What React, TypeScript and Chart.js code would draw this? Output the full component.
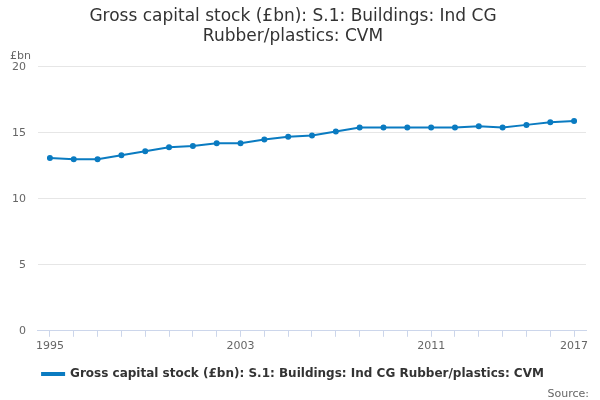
import React, { useEffect, useRef } from "react";
import { Chart, registerables } from "chart.js";
Chart.register(...registerables);

const years = [1995,1996,1997,1998,1999,2000,2001,2002,2003,2004,2005,2006,2007,2008,2009,2010,2011,2012,2013,2014,2015,2016,2017];
const values = [13.1,13.0,13.0,13.3,13.6,13.9,14.0,14.2,14.2,14.5,14.7,14.8,15.1,15.4,15.4,15.4,15.4,15.4,15.5,15.4,15.6,15.8,15.9];
const labelYears = [1995, 2003, 2011, 2017];
const seriesName = "Gross capital stock (£bn): S.1: Buildings: Ind CG Rubber/plastics: CVM";
const FONT = "'DejaVu Sans', sans-serif";

export default function App() {
  const ref = useRef<HTMLCanvasElement>(null);
  useEffect(() => {
    const extra = {
      id: "extra",
      afterDraw(c: any) {
        const ctx = c.ctx;
        ctx.save();
        ctx.font = `11px ${FONT}`;
        ctx.fillStyle = "#666";
        ctx.textAlign = "left";
        ctx.fillText("£bn", 10, 56);
        ctx.textAlign = "right";
        ctx.fillText("Source:", 589, 394);
        ctx.restore();
      },
    };
    const chart = new Chart(ref.current!, {
      type: "line",
      data: {
        datasets: [{
          label: seriesName,
          data: years.map((y, i) => ({ x: y, y: values[i] })),
          borderColor: "#0a7bc1",
          backgroundColor: "#0a7bc1",
          borderWidth: 2,
          pointRadius: 2,
          tension: 0,
        }],
      },
      options: {
        animation: false,
        responsive: false,
        layout: { padding: { left: 0, right: 14, top: 0, bottom: 10 } },
        plugins: {
          title: {
            display: true,
            text: ["Gross capital stock (£bn): S.1: Buildings: Ind CG", "Rubber/plastics: CVM"],
            font: { family: FONT, size: 17, weight: "normal" },
            color: "#333",
            padding: { top: 6, bottom: 20 },
          },
          legend: {
            position: "bottom",
            labels: {
              font: { family: FONT, size: 12, weight: "bold" },
              color: "#333",
              boxWidth: 22,
              boxHeight: 2,
              padding: 12,
            },
          },
          tooltip: { enabled: false },
        },
        scales: {
          x: {
            type: "linear",
            min: 1994.5,
            max: 2017.5,
            afterBuildTicks: (s: any) => { s.ticks = years.map((v) => ({ value: v })); },
            ticks: {
              autoSkip: false,
              maxRotation: 0,
              callback: (v: any) => (labelYears.includes(v) ? String(v) : ""),
              font: { family: FONT, size: 11 },
              color: "#666",
            },
            grid: { drawOnChartArea: false, drawTicks: true, tickLength: 6, color: "#ccd6eb" },
            border: { color: "#ccd6eb" },
          },
          y: {
            min: 0,
            max: 20,
            ticks: { stepSize: 5, font: { family: FONT, size: 11 }, color: "#666", padding: 12 },
            grid: { color: "#e6e6e6", drawTicks: false },
            border: { display: false },
          },
        },
      },
      plugins: [extra],
    });
    return () => chart.destroy();
  }, []);
  return <canvas ref={ref} width={600} height={400} style={{ position: "absolute", left: 0, top: 0 }} />;
}
